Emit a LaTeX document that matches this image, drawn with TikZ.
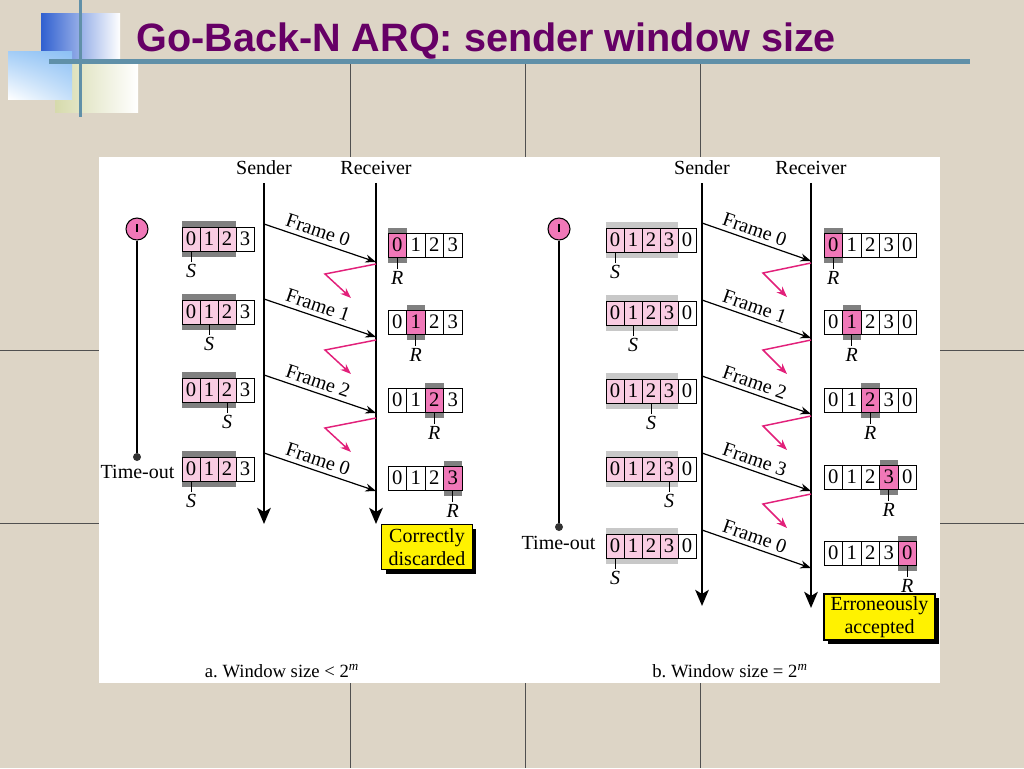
\documentclass[tikz,border=0pt]{standalone}
\usepackage{fontspec}
\setmainfont{Liberation Serif}
\newfontfamily\titlefont{Liberation Sans}
\usetikzlibrary{arrows.meta,shadows,shadings}
\frenchspacing
\definecolor{bgc}{RGB}{221,213,198}
\definecolor{gridc}{RGB}{80,80,80}
\definecolor{deco}{RGB}{96,144,168}
\definecolor{decoblue}{RGB}{48,96,208}
\definecolor{decolight}{RGB}{140,192,244}
\definecolor{decogreen}{RGB}{214,218,172}
\definecolor{titlec}{RGB}{102,0,102}
\definecolor{spink}{RGB}{249,204,226}
\definecolor{hpink}{RGB}{240,120,184}
\definecolor{ackc}{RGB}{226,32,122}
\definecolor{darkbar}{RGB}{128,128,128}
\definecolor{lightbar}{RGB}{200,200,200}
\tikzset{
  lbl/.style={font=\fontsize{15}{18}\selectfont, inner sep=1pt},
  cell/.style={draw, line width=0.7pt, minimum width=13.5pt, minimum height=18pt, inner sep=0pt, font=\fontsize{15.5}{15.5}\selectfont},
  rcell/.style={cell, minimum width=13.9pt},
  ptrtick/.style={line width=0.6pt},
  ptr/.style={font=\fontsize{15}{15}\selectfont\itshape, inner sep=1pt, anchor=north},
  lifeline/.style={line width=2.2pt, -{Stealth[length=12pt,width=10pt,inset=3pt]}},
  fmsg/.style={line width=0.9pt, -{Stealth[length=8pt,width=6pt]}},
  flabel/.style={font=\fontsize{15}{15}\selectfont, sloped, above, inner sep=3pt, pos=0.45},
  ack/.style={line width=1.1pt, ackc, -{Stealth[length=8pt,width=6pt]}},
  ybox/.style={draw, line width=0.8pt, fill=yellow, align=center, inner sep=0pt, font=\fontsize{15}{17}\selectfont, drop shadow={fill=black, opacity=1, shadow xshift=3pt, shadow yshift=-3pt}},
  timer/.style={circle, draw, line width=0.8pt, fill=hpink, minimum size=16.5pt, inner sep=0pt},
  tdot/.style={circle, fill=black!80, minimum size=6pt, inner sep=0pt},
  caption/.style={font=\fontsize{14}{14}\selectfont, inner sep=1pt},
}
\begin{document}
\begin{tikzpicture}[x=0.75pt,y=-0.75pt]
\useasboundingbox (0,0) rectangle (1024,768);
\fill[bgc] (0,0) rectangle (1024,768);
% grid lines
\foreach \gx in {350,525,700} \draw[gridc, line width=0.7pt] (\gx,62) -- (\gx,768);
\foreach \gy in {350,523} \draw[gridc, line width=0.7pt] (0,\gy) -- (1024,\gy);
% decoration
\shade[left color=decoblue, middle color=decoblue, right color=white] (41,13) rectangle (120,60);
\shade[left color=decogreen, right color=white] (55,62) rectangle (138,112);
\shade[upper left=decolight!80, upper right=decolight, lower left=white, lower right=decolight!50] (8,51) rectangle (72,99);
\fill[deco] (49,59) rectangle (970,64);
\fill[deco] (78.5,0) rectangle (82,117);
% title
\node[anchor=base west, inner sep=0pt, text=titlec, font=\titlefont\bfseries\fontsize{29.7}{30}\selectfont] (title) at (136,51) {Go-Back-N ARQ: sender window size};
% panel
\node[fill=white, inner sep=0pt, minimum width=630.75pt, minimum height=394.5pt, anchor=north west] (panel) at (99,157) {};

% ================= panel a =================
\node[lbl] (sendA) at (264,168) {Sender};
\node[lbl] (recvA) at (376,168) {Receiver};
\coordinate (sAb) at (264,524);
\coordinate (rAb) at (376,524);
\draw[lifeline, shorten <=5pt] (sendA) -- (sAb);
\draw[lifeline, shorten <=5pt] (recvA) -- (rAb);
% timer
\node[timer] (timA) at (137,229) {};
\draw[line width=1.5pt] (timA.center) ++(0,-5) -- ++(0,8);
\node[tdot] (dotA) at (137,457) {};
\draw[line width=0.8pt] (timA) -- (dotA);
\node[lbl, anchor=east] (toA) at (176,472) {Time-out};
% sender windows
\foreach \yc/\s [count=\r] in {239/0,312/1,390/2,469/0} {
  \fill[darkbar] (182,\yc-18) rectangle (236,\yc+18);
  \foreach \i in {0,...,3} {
    \ifnum\i<3\relax\def\cf{spink}\else\def\cf{white}\fi
    \node[cell, fill=\cf] (sA\r c\i) at (191+18*\i,\yc) {\i};
  }
  \draw[ptrtick] (sA\r c\s.south) -- ++(0,11) node[ptr] (sA\r S) {S};
}
% receiver windows
\foreach \yc/\s [count=\r] in {245/0,322/1,400/2,478/3} {
  \fill[darkbar] (388+18.5*\s,\yc-17.5) rectangle ++(18.5,35);
  \foreach \i in {0,...,3} {
    \ifnum\i=\s\relax\def\cf{hpink}\else\def\cf{white}\fi
    \node[rcell, fill=\cf] (rA\r c\i) at (397.25+18.5*\i,\yc) {\i};
  }
  \draw[ptrtick] (rA\r c\s.south) -- ++(0,12) node[ptr] (rA\r R) {R};
}
% frames
\foreach \k/\ys/\ye/\lab in {1/224/262/0, 2/299/337/1, 3/375/413/2, 4/453/491/0} {
  \coordinate (fA\k s) at (264,\ys);
  \coordinate (fA\k e) at (376,\ye);
  \draw[fmsg] (fA\k s) -- node[flabel] (fA\k l) {Frame \lab} (fA\k e);
}
% lost acks
\foreach \k/\dy in {1/0, 2/76, 3/154} {
  \coordinate (aA\k s) at (376,264+\dy);
  \coordinate (aA\k m) at (325,274+\dy);
  \coordinate (aA\k e) at (351,298+\dy);
  \draw[ack] (aA\k s) -- (aA\k m) -- (aA\k e);
}
\node[ybox, minimum width=68pt, minimum height=33.75pt] (boxA) at (427,547) {Correctly\\discarded};
\node[caption] (capA) at (282,671) {a. Window size < 2\textsuperscript{\itshape m}};

% ================= panel b =================
\node[lbl] (sendB) at (702,168) {Sender};
\node[lbl] (recvB) at (811,168) {Receiver};
\coordinate (sBb) at (702,606);
\coordinate (rBb) at (811,608);
\draw[lifeline, shorten <=5pt] (sendB) -- (sBb);
\draw[lifeline, shorten <=5pt] (recvB) -- (rBb);
% timer
\node[timer] (timB) at (559,229) {};
\draw[line width=1.5pt] (timB.center) ++(0,-5) -- ++(0,8);
\node[tdot] (dotB) at (559,527) {};
\draw[line width=0.8pt] (timB) -- (dotB);
\node[lbl, anchor=east] (toB) at (597,543) {Time-out};
% sender windows
\foreach \yc/\s [count=\r] in {240/0,313/1,391/2,469/3,546/0} {
  \fill[lightbar] (606,\yc-18) rectangle (678,\yc+18);
  \foreach \i in {0,...,4} {
    \pgfmathtruncatemacro\lab{mod(\i,4)}
    \ifnum\i<4\relax\def\cf{spink}\else\def\cf{white}\fi
    \node[cell, fill=\cf] (sB\r c\i) at (615+18*\i,\yc) {\lab};
  }
  \draw[ptrtick] (sB\r c\s.south) -- ++(0,11) node[ptr] (sB\r S) {S};
}
% receiver windows
\foreach \yc/\s [count=\r] in {245/0,322/1,400/2,477/3,553/4} {
  \fill[darkbar] (824+18.5*\s,\yc-17.5) rectangle ++(18.5,35);
  \foreach \i in {0,...,4} {
    \pgfmathtruncatemacro\lab{mod(\i,4)}
    \ifnum\i=\s\relax\def\cf{hpink}\else\def\cf{white}\fi
    \node[rcell, fill=\cf] (rB\r c\i) at (833.25+18.5*\i,\yc) {\lab};
  }
  \draw[ptrtick] (rB\r c\s.south) -- ++(0,12) node[ptr] (rB\r R) {R};
}
% frames
\foreach \k/\ys/\ye/\lab in {1/223/261/0, 2/300/338/1, 3/376/414/2, 4/453/491/3, 5/530/568/0} {
  \coordinate (fB\k s) at (702,\ys);
  \coordinate (fB\k e) at (811,\ye);
  \draw[fmsg] (fB\k s) -- node[flabel] (fB\k l) {Frame \lab} (fB\k e);
}
% lost acks
\foreach \k/\dy in {1/0, 2/77, 3/153, 4/231} {
  \coordinate (aB\k s) at (811,263+\dy);
  \coordinate (aB\k m) at (763,273+\dy);
  \coordinate (aB\k e) at (787,297+\dy);
  \draw[ack] (aB\k s) -- (aB\k m) -- (aB\k e);
}
\node[ybox, minimum width=83.25pt, minimum height=34.5pt] (boxB) at (879.5,617) {Erroneously\\accepted};
\node[caption] (capB) at (730,671) {b. Window size = 2\textsuperscript{\itshape m}};
\end{tikzpicture}
\end{document}
